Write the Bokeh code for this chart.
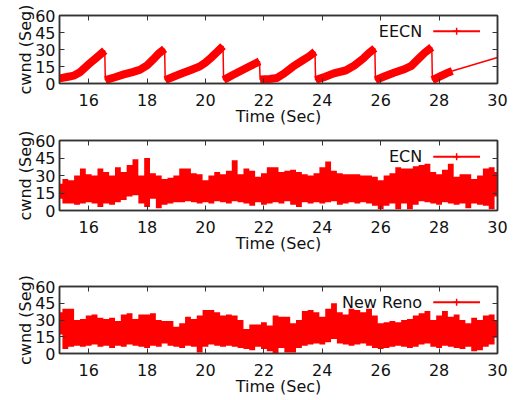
import numpy as np
from bokeh.plotting import figure
from bokeh.models import Range1d, FixedTicker, LinearAxis
from bokeh.layouts import column
from bokeh.embed import file_html
from bokeh.resources import INLINE
from bokeh.core.properties import value

# ---------------- data ----------------
x_ticks = [16, 18, 20, 22, 24, 26, 28, 30]
y_ticks = [0, 15, 30, 45, 60]

# EECN: sawtooth cwnd (Seg) vs time (Sec)
eecn_t = [15.0, 15.3, 15.5, 15.7, 16.0, 16.3, 16.55,
          16.57, 16.9, 17.2, 17.5, 17.75, 18.0, 18.2, 18.4, 18.6,
          18.62, 18.9, 19.2, 19.5, 19.8, 20.0, 20.2, 20.4, 20.6,
          20.62, 20.9, 21.2, 21.5, 21.85,
          21.87, 22.2, 22.45, 22.7, 23.0, 23.3, 23.55, 23.75,
          23.77, 24.1, 24.4, 24.8, 25.1, 25.4, 25.6, 25.8,
          25.82, 26.1, 26.45, 26.8, 27.05, 27.3, 27.5, 27.75,
          27.77, 28.05, 28.25, 28.45]
eecn_v = [4.5, 6, 7, 10, 17, 23.5, 29,
          3, 5.5, 8, 10, 12, 16, 21, 26.5, 30.5,
          3, 6, 9, 12, 15, 18.5, 23, 28, 33,
          3, 7, 11, 15, 19.5,
          3.5, 4, 5, 9, 15, 20, 24, 28,
          3, 6, 9, 11.5, 16, 22, 27, 31,
          3, 6, 9.5, 12.5, 15.5, 22, 27, 32,
          3, 6.5, 9, 11]
eecn_tail_t = [28.45, 30.0]
eecn_tail_v = [11, 23]

# ECN and New Reno: sampled every 0.2 s from 15.0 to 30.0 (upper / lower envelope)
band_t = [round(15.0 + 0.2 * i, 1) for i in range(76)]
ecn_hi = [23, 27, 26, 30, 36, 31, 30, 36, 33, 30,
          37, 33, 39, 44, 30, 45, 32, 30, 27, 28,
          30, 36, 36, 32, 31, 26, 30, 33, 31, 34,
          43, 31, 36, 34, 29, 32, 37, 37, 33, 34,
          35, 33, 31, 30, 32, 37, 42, 34, 32, 31,
          31, 31, 30, 30, 29, 26, 30, 32, 37, 36,
          36, 38, 39, 40, 33, 31, 35, 40, 29, 31,
          31, 27, 30, 36, 37, 33]
ecn_lo = [10, 6, 6, 5, 6, 7, 6, 3, 6, 5,
          7, 9, 12, 13, 6, 3, 10, 2, 5, 6,
          7, 7, 8, 7, 6, 7, 6, 8, 7, 6,
          8, 7, 6, 4, 7, 5, 6, 7, 6, 8,
          5, 3, 7, 6, 7, 6, 7, 8, 5, 6,
          7, 6, 7, 6, 4, 1, 4, 6, 1, 6,
          1, 5, 8, 7, 6, 5, 7, 6, 5, 6,
          2, 6, 5, 4, 1, 12]
reno_hi = [37, 40, 40, 30, 31, 34, 35, 32, 31, 32,
           29, 35, 36, 31, 35, 35, 36, 30, 29, 29,
           24, 27, 33, 31, 34, 39, 39, 37, 34, 35,
           34, 30, 22, 26, 26, 28, 25, 34, 33, 33,
           27, 30, 38, 39, 37, 33, 40, 45, 37, 35,
           40, 39, 37, 40, 34, 27, 28, 29, 28, 30,
           31, 34, 36, 38, 30, 34, 38, 33, 35, 30,
           27, 32, 30, 34, 35, 29]
reno_lo = [17, 4, 6, 7, 6, 7, 8, 6, 7, 5,
           7, 6, 8, 7, 6, 5, 7, 6, 9, 7,
           6, 5, 7, 6, 1, 6, 8, 7, 6, 7,
           6, 5, 4, 3, 6, 4, 2, 0, 5, 1,
           1, 5, 7, 8, 9, 8, 10, 13, 9, 8,
           7, 8, 9, 7, 5, 4, 5, 6, 7, 6,
           5, 6, 8, 9, 6, 5, 7, 6, 5, 4,
           6, 2, 3, 6, 8, 14]

RED = "#ff0000"
DARK = "#333333"
TXT = "#111111"
FONT = "DejaVu Sans"


def make_fig(height, top, frame_h):
    p = figure(width=523, height=height, x_range=Range1d(15, 30), y_range=Range1d(0, 60),
               output_backend="svg", toolbar_location=None,
               min_border_left=59, min_border_right=26,
               min_border_top=top, min_border_bottom=height - top - frame_h,
               background_fill_color="white", border_fill_color="white")
    p.grid.visible = False
    p.outline_line_color = DARK
    p.outline_line_width = 1.5
    p.xaxis.ticker = FixedTicker(ticks=x_ticks)
    p.yaxis.ticker = FixedTicker(ticks=y_ticks)
    p.xaxis.axis_label = "Time (Sec)"
    p.yaxis.axis_label = "cwnd (Seg)"
    for ax in (p.xaxis[0], p.yaxis[0]):
        ax.major_label_text_font = FONT
        ax.major_label_text_font_size = "16px"
        ax.major_label_text_color = TXT
        ax.axis_label_text_font = FONT
        ax.axis_label_text_font_size = "16px"
        ax.axis_label_text_font_style = "normal"
        ax.axis_label_text_color = TXT
        ax.axis_line_color = DARK
        ax.axis_line_width = 1.5
        ax.major_tick_line_color = DARK
        ax.major_tick_in = 5
        ax.major_tick_out = 0
        ax.minor_tick_in = 0
        ax.minor_tick_out = 0
    p.xaxis.major_label_standoff = 10
    p.xaxis.axis_label_standoff = -2
    p.yaxis.major_label_standoff = 4
    p.yaxis.axis_label_standoff = -3
    for loc, tk in (("above", x_ticks), ("right", y_ticks)):
        ax = LinearAxis(ticker=FixedTicker(ticks=tk), major_label_text_font_size="0px",
                        major_label_text_alpha=0, major_label_standoff=0,
                        major_tick_in=5, major_tick_out=0, minor_tick_in=0, minor_tick_out=0,
                        axis_line_color=DARK, axis_line_width=1.5, major_tick_line_color=DARK)
        p.add_layout(ax, loc)
    return p


def add_legend(p, text):
    p.text(x=[27.42], y=[46], text=[text], text_align="right", text_baseline="middle",
           text_font_size="16px", text_color=TXT, text_font=value(FONT))
    p.line(x=[27.8, 29.4], y=[46, 46], line_color=RED, line_width=2)
    p.scatter(x=[28.6], y=[46], marker="cross", size=7, line_color=RED, line_width=1.5)


# Plot 1: EECN
p1 = make_fig(128, 15, 69)
p1.line(eecn_t, eecn_v, line_color=RED, line_width=1.5)
segs_x, segs_y, cx, cy = [], [], [], []
for t, v in zip(eecn_t, eecn_v):
    if cy and v < cy[-1] - 5:
        segs_x.append(cx); segs_y.append(cy); cx, cy = [], []
    cx.append(t); cy.append(v)
segs_x.append(cx); segs_y.append(cy)
p1.multi_line(segs_x, segs_y, line_color=RED, line_width=8, line_join="miter", line_cap="butt")
p1.line(eecn_tail_t, eecn_tail_v, line_color=RED, line_width=1.5)
add_legend(p1, "EECN")

# Plot 2: ECN
p2 = make_fig(146, 12, 70)
p2.varea_step(x=band_t, y1=ecn_lo, y2=ecn_hi, step_mode="center", fill_color=RED)
add_legend(p2, "ECN")

# Plot 3: New Reno
p3 = make_fig(124, 12, 71)
p3.varea_step(x=band_t, y1=reno_lo, y2=reno_hi, step_mode="center", fill_color=RED)
add_legend(p3, "New Reno")

layout = column(p1, p2, p3, spacing=0)
open("out.html", "w").write(file_html(layout, INLINE))
